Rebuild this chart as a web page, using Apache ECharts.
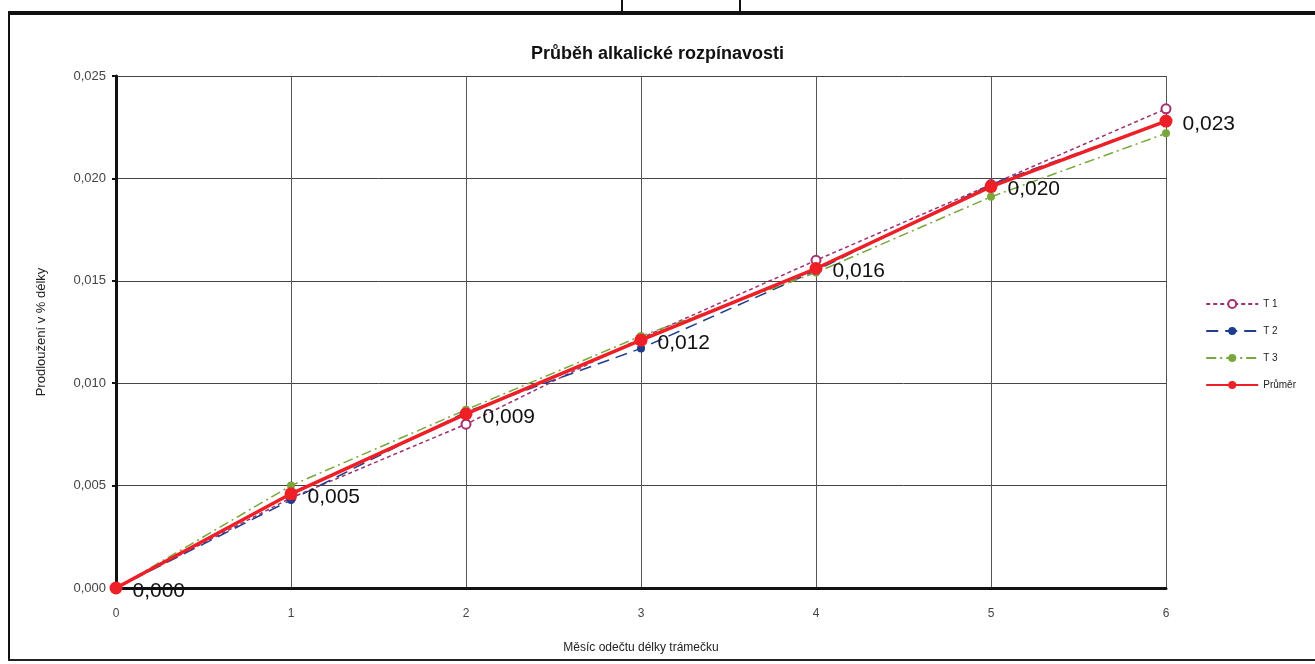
<!DOCTYPE html>
<html><head><meta charset="utf-8">
<script src="https://cdn.jsdelivr.net/npm/echarts@6/dist/echarts.min.js"></script>
<style>html,body{margin:0;padding:0;background:#fff}#c{width:1315px;height:664px}</style>
</head><body><div id="c"></div>
<script>
const months = [0, 1, 2, 3, 4, 5, 6];
const yTicks = [0, 0.005, 0.010, 0.015, 0.020, 0.025];
const t1 = [0, 0.0044, 0.0080, 0.0122, 0.0160, 0.0197, 0.0234];
const t2 = [0, 0.0043, 0.0086, 0.0117, 0.0155, 0.0197, 0.0228];
const t3 = [0, 0.0050, 0.0087, 0.0123, 0.0154, 0.0191, 0.0222];
const prumer = [0, 0.0046, 0.0085, 0.0121, 0.0156, 0.0196, 0.0228];
const seriesNames = ['T 1', 'T 2', 'T 3', 'Průměr'];

const fmt = v => (Math.round(v * 1000 + 1e-6) / 1000).toFixed(3).replace('.', ',');
const pts = arr => arr.map((v, i) => [months[i], v]);

const chart = echarts.init(document.getElementById('c'));
chart.setOption({
  backgroundColor: '#fff',
  animation: false,
  title: {
    text: 'Průběh alkalické rozpínavosti',
    left: 'center', top: 40,
    textStyle: { fontFamily: 'Liberation Sans, Arial', fontSize: 18, fontWeight: 'bold', color: '#111' }
  },
  grid: { left: 116, right: 149, top: 76, bottom: 76 },
  legend: {
    orient: 'vertical', right: 14, top: 294, itemGap: 17,
    itemWidth: 52, itemHeight: 10,
    textStyle: { fontFamily: 'Liberation Sans, Arial', fontSize: 10, color: '#222' },
    data: seriesNames
  },
  xAxis: {
    type: 'value', min: 0, max: 6, interval: 1,
    name: 'Měsíc odečtu délky trámečku', nameLocation: 'middle', nameGap: 54,
    nameTextStyle: { fontFamily: 'Liberation Sans, Arial', fontSize: 12, color: '#222' },
    axisLine: { lineStyle: { color: '#111', width: 3 } },
    axisTick: { show: false },
    axisLabel: { fontFamily: 'Liberation Sans, Arial', fontSize: 12, color: '#444', margin: 20 },
    splitLine: { show: true, lineStyle: { color: '#555', width: 1 } }
  },
  yAxis: {
    type: 'value', min: 0, max: 0.025, interval: 0.005,
    name: 'Prodloužení v % délky', nameLocation: 'middle', nameGap: 68, nameRotate: 90,
    nameTextStyle: { fontFamily: 'Liberation Sans, Arial', fontSize: 13, color: '#222' },
    axisLine: { show: true, lineStyle: { color: '#111', width: 3 } },
    axisTick: { show: true, length: 4, lineStyle: { color: '#111', width: 2 } },
    axisLabel: { fontFamily: 'Liberation Sans, Arial', fontSize: 13, color: '#444', margin: 10,
      formatter: v => { const t = yTicks.find(x => Math.abs(x - v) < 1e-9); return fmt(t === undefined ? v : t); } },
    splitLine: { show: true, lineStyle: { color: '#444', width: 1 } }
  },
  series: [
    { name: 'T 1', type: 'line', data: pts(t1), symbol: 'emptyCircle', symbolSize: 9, z: 3,
      itemStyle: { color: '#a2306f', borderWidth: 1.5 },
      lineStyle: { color: '#a2306f', width: 1.5, type: [4, 3] } },
    { name: 'T 2', type: 'line', data: pts(t2), symbol: 'circle', symbolSize: 8, z: 3,
      itemStyle: { color: '#1f3d8c' },
      lineStyle: { color: '#1f3d8c', width: 1.5, type: [12, 7] } },
    { name: 'T 3', type: 'line', data: pts(t3), symbol: 'circle', symbolSize: 8, z: 3,
      itemStyle: { color: '#7aa63c' },
      lineStyle: { color: '#7aa63c', width: 1.5, type: [10, 4, 2, 4] } },
    { name: 'Průměr', type: 'line', data: pts(prumer), symbol: 'circle', symbolSize: 13, z: 4,
      itemStyle: { color: '#ee2027' },
      lineStyle: { color: '#ee2027', width: 3.5 },
      label: { show: true, position: 'right', distance: 10, offset: [0, 3],
        fontFamily: 'Liberation Sans, Arial', fontSize: 21, color: '#111',
        formatter: p => fmt(p.value[1]) } }
  ],
  graphic: [
    { type: 'line', shape: { x1: 8, y1: 13, x2: 1315, y2: 13 }, style: { stroke: '#111', lineWidth: 4 } },
    { type: 'line', shape: { x1: 9, y1: 13, x2: 9, y2: 660 }, style: { stroke: '#111', lineWidth: 2 } },
    { type: 'line', shape: { x1: 8, y1: 660, x2: 1315, y2: 660 }, style: { stroke: '#222', lineWidth: 2 } },
    { type: 'line', shape: { x1: 622, y1: 0, x2: 622, y2: 13 }, style: { stroke: '#111', lineWidth: 2 } },
    { type: 'line', shape: { x1: 740, y1: 0, x2: 740, y2: 13 }, style: { stroke: '#111', lineWidth: 2 } }
  ]
});
</script></body></html>
